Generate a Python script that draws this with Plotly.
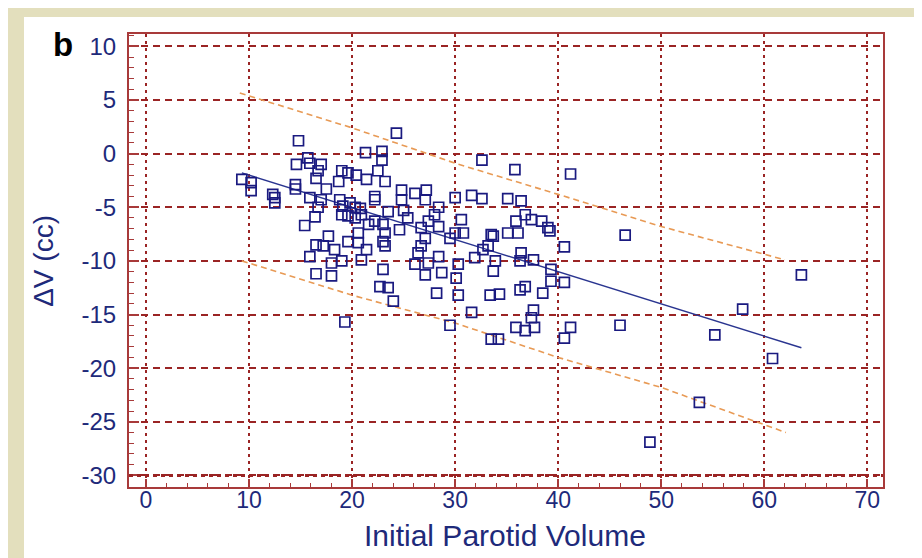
import plotly.graph_objects as go

# ---- data ----
volume = [14.8, 21.3, 22.9, 22.9, 14.6, 15.7, 15.9, 17.0, 16.7, 16.5, 19.0, 19.6, 18.7, 20.4, 21.4, 22.5, 23.2,
          9.3, 10.2, 10.2, 12.3, 12.5, 12.5, 14.5, 14.5, 17.5, 15.9, 17.0, 16.7, 16.4, 15.4, 18.8, 19.1, 19.8,
          20.3, 20.8, 19.0, 19.6, 20.3, 20.9, 21.6, 22.2, 22.2, 22.2, 23.0, 17.7, 20.6, 23.2,
          24.3, 32.6, 35.8, 24.8, 26.1, 27.2, 24.8, 27.1, 30.0, 31.6, 32.6, 35.1, 36.4, 23.5, 25.0, 28.4,
          28.0, 25.4, 27.4, 28.4, 30.6, 36.8, 37.4, 38.4, 35.9, 39.0, 26.7, 30.0, 30.8, 33.5, 35.1, 36.1, 24.6,
          16.5, 17.2, 15.9, 18.3, 19.0, 18.0, 19.6, 20.6, 21.4, 20.9, 23.0, 23.2, 23.0, 22.7, 16.5, 18.0, 19.3,
          27.1, 26.7, 26.4, 29.5, 33.7, 33.2, 32.7, 31.9, 28.4, 27.4, 26.1, 30.3, 33.9, 33.7, 36.4, 36.3, 37.6,
          39.3, 39.3, 27.1, 28.7, 30.1, 23.5, 28.2, 30.3, 33.4, 34.3, 36.3, 36.8, 38.5, 24.0, 31.6, 37.6, 37.4,
          35.9, 36.8, 37.7, 29.5, 33.5, 34.2,
          41.2, 46.5, 40.6, 39.2, 40.6, 41.2, 40.6, 46.0, 63.6, 57.9, 55.2, 60.8, 53.7, 48.9]
delta_v = [1.2, 0.1, 0.2, -0.6, -1.0, -0.4, -0.9, -1.0, -1.6, -2.3, -1.6, -1.8, -2.6, -2.0, -2.4, -1.6, -2.6,
           -2.4, -2.7, -3.45, -3.8, -4.1, -4.6, -2.9, -3.3, -3.3, -4.1, -4.3, -5.0, -5.9, -6.7, -4.3, -4.9, -4.6,
           -5.0, -5.1, -5.7, -5.8, -6.0, -5.7, -6.6, -4.0, -4.3, -6.3, -6.6, -7.7, -7.4, -7.4,
           1.9, -0.6, -1.5, -3.4, -3.7, -3.4, -4.3, -4.3, -4.1, -3.9, -4.2, -4.2, -4.4, -5.4, -5.3, -5.0,
           -5.7, -6.0, -6.3, -6.8, -6.15, -5.7, -6.15, -6.3, -6.3, -6.9, -6.9, -7.4, -7.4, -7.55, -7.4, -7.4, -7.1,
           -8.5, -8.6, -9.6, -8.95, -10.0, -10.2, -8.2, -8.3, -8.95, -9.9, -8.2, -8.6, -10.8, -12.4, -11.2, -11.4, -15.7,
           -7.9, -8.6, -9.25, -7.9, -7.7, -8.6, -8.95, -9.7, -9.6, -10.2, -10.3, -10.3, -10.0, -10.95, -9.25, -10.0, -9.9,
           -10.8, -11.9, -11.3, -11.1, -11.6, -12.5, -13.0, -13.2, -13.2, -13.1, -12.7, -12.4, -13.0, -13.75, -14.8, -14.6, -15.3,
           -16.2, -16.5, -16.2, -16.0, -17.3, -17.3,
           -1.9, -7.6, -8.7, -7.2, -12.0, -16.2, -17.2, -16.0, -11.3, -14.5, -16.9, -19.1, -23.2, -26.9]

fit_x = [9.3, 63.6]
fit_y = [-1.8, -18.1]

band_x_upper = [9.1, 20, 30, 40, 50, 62]
band_y_upper = [5.65, 2.4, -0.9, -3.8, -6.8, -9.9]
band_x_lower = [9.3, 20, 30, 40, 50, 62.1]
band_y_lower = [-10.0, -13.2, -15.8, -19.0, -21.8, -26.0]

x_ticks = [0, 10, 20, 30, 40, 50, 60, 70]
y_ticks = [10, 5, 0, -5, -10, -15, -20, -25, -30]

# ---- styling ----
NAVY = "#1e2a7a"
GRID = "#9a2424"
FRAME = "#a83a3a"
FONT = "Liberation Sans, Arial, sans-serif"

fig = go.Figure()
fig.add_trace(go.Scatter(x=band_x_upper, y=band_y_upper, mode="lines",
                         line=dict(color="#e89a55", width=1.6, dash="6px,4px"), hoverinfo="skip"))
fig.add_trace(go.Scatter(x=band_x_lower, y=band_y_lower, mode="lines",
                         line=dict(color="#e89a55", width=1.6, dash="6px,4px"), hoverinfo="skip"))
fig.add_trace(go.Scatter(x=fit_x, y=fit_y, mode="lines",
                         line=dict(color="#2a3590", width=1.4), hoverinfo="skip"))
fig.add_trace(go.Scatter(x=volume, y=delta_v, mode="markers",
                         marker=dict(symbol="square-open", size=10, color="#1a1a80",
                                     line=dict(width=1.7, color="#1a1a80"))))

L, R, T, B = 121, 875, 26, 479.3
W, H = 922, 558
pw, ph = R - L, B - T

def px(xp):
    return (xp - L) / pw

def py(yp):
    return (B - yp) / ph

fig.update_layout(
    width=W, height=H,
    margin=dict(l=L, r=W - R, t=T, b=H - B, pad=0),
    paper_bgcolor="#e3dfbd",
    plot_bgcolor="white",
    showlegend=False,
    font=dict(family=FONT, color=NAVY),
    shapes=[
        dict(type="rect", xref="paper", yref="paper", x0=px(16), x1=px(909), y0=py(H + 5), y1=py(9),
             fillcolor="white", line=dict(width=0), layer="below"),
        dict(type="line", xref="paper", yref="y", x0=0, x1=1, y0=-30, y1=-30,
             line=dict(color=GRID, width=3, dash="4px,4px"), layer="above"),
    ],
    annotations=[
        dict(text="b", xref="paper", yref="paper", x=px(55), y=py(37), showarrow=False,
             font=dict(family=FONT, size=33, color="black", weight="bold"), xanchor="center", yanchor="middle"),
        dict(text="Initial Parotid Volume", xref="paper", yref="paper", x=px(497), y=py(528),
             showarrow=False, font=dict(family=FONT, size=30, color=NAVY), xanchor="center", yanchor="middle"),
        dict(text="ΔV (cc)", xref="paper", yref="paper", x=px(36), y=py(253), textangle=-90,
             showarrow=False, font=dict(family=FONT, size=28, color=NAVY), xanchor="center", yanchor="middle"),
    ],
)

fig.update_xaxes(
    range=[-1.65, 71.52], tickvals=x_ticks, ticktext=[str(v) for v in x_ticks],
    showgrid=True, gridcolor=GRID, gridwidth=1.6, griddash="3px,4px",
    zeroline=False, showline=True, linecolor=FRAME, linewidth=2, mirror=True,
    ticks="inside", ticklen=8, tickwidth=1.5, tickcolor=FRAME,
    minor=dict(dtick=2, tick0=0, ticks="inside", ticklen=4, tickcolor=FRAME, tickwidth=1, showgrid=False),
    tickfont=dict(family=FONT, size=23, color=NAVY), ticklabelstandoff=-9,
)
fig.update_yaxes(
    range=[-31.08, 11.15], tickvals=y_ticks, ticktext=[str(v) for v in y_ticks],
    showgrid=True, gridcolor=GRID, gridwidth=1.6, griddash="7px,5px",
    zeroline=False, showline=True, linecolor=FRAME, linewidth=2, mirror=True,
    ticks="inside", ticklen=10, tickwidth=1.5, tickcolor=FRAME,
    minor=dict(dtick=1, tick0=0, ticks="inside", ticklen=5, tickcolor=FRAME, tickwidth=1, showgrid=False),
    tickfont=dict(family=FONT, size=24, color=NAVY), ticklabelstandoff=6,
)

fig.write_html("out.html")
